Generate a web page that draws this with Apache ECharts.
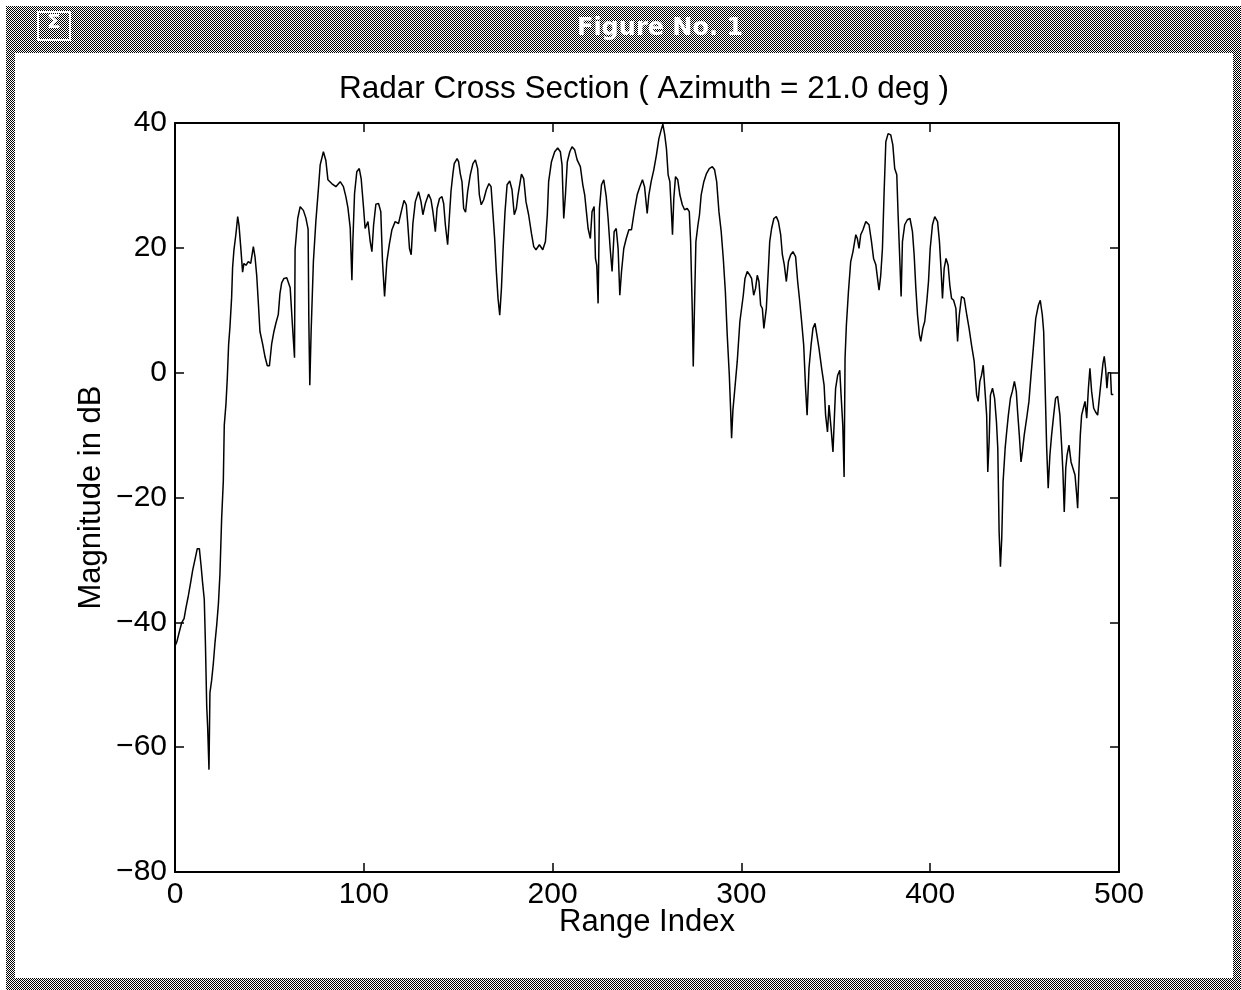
<!DOCTYPE html>
<html>
<head>
<meta charset="utf-8">
<script src="https://cdn.jsdelivr.net/npm/echarts@6/dist/echarts.min.js"></script>
<style>
html, body { margin: 0; padding: 0; background: #ffffff; }
#chart { width: 1241px; height: 990px; }
</style>
</head>
<body>
<div id="chart"></div>
<script>
// Range profile samples: range bin index and magnitude (dB)
const rangeIndex = [
  0, 0.9, 2.3, 3.5, 4.8, 5.8, 7.1, 8.3, 9.4, 10.6, 11.8, 12.9, 13.8, 14.6, 15.5, 16.1, 16.8, 17.3, 18, 18.5,
  19.4, 20.3, 21.2, 22.1, 23, 23.8, 24.7, 25.6, 26.1, 27, 27.7, 28.4, 29.1, 30, 30.5, 31.2, 32.3, 33.2, 33.9, 34.8,
  35.8, 36.5, 37.6, 38.8, 40.1, 41.5, 42.4, 43.3, 44.1, 45, 46.4, 47.7, 48.9, 50, 51.2, 52.4, 53.5, 54.7, 55.6, 56.5,
  57.7, 59.2, 61, 62.2, 63.3, 63.6, 65, 66.3, 68, 69.3, 70.5, 70.9, 71.4, 72.1, 73.3, 74.6, 76, 76.9, 78.6, 79.9,
  81, 83, 85.2, 87.5, 89.2, 90.5, 91.6, 92.8, 93.7, 94.2, 95.1, 96.3, 97.6, 98.6, 99.9, 100.7, 102.2, 103.4, 104.3, 105.2,
  106.4, 107.8, 109, 109.9, 111, 112.2, 113.5, 114.9, 116.6, 118.4, 120, 121.3, 122.5, 123.2, 124.2, 125.1, 126, 127.3, 129, 130.3,
  131.3, 132.6, 134.3, 135.6, 136.6, 137.9, 138.8, 140.1, 141.4, 142.3, 143.2, 144.4, 145.4, 146.2, 147.2, 147.9, 149.4, 150.2, 151.1, 152,
  152.9, 153.9, 155, 156.4, 157.8, 159.1, 160.3, 161.2, 162.2, 163.5, 164.9, 166.3, 167.4, 168.4, 169.3, 170.2, 171.1, 172, 172.9, 173.8,
  174.8, 175.9, 177.3, 178.5, 179.7, 180.8, 181.7, 183.5, 184.7, 185.9, 187.3, 188.8, 190, 191.2, 193, 194.8, 196.2, 197.2, 197.9, 199.4,
  201.1, 202.7, 204.1, 205, 205.9, 206.8, 207.8, 209.1, 210.3, 211.7, 213, 214.7, 216, 217, 217.9, 218.8, 220, 220.9, 222, 222.7,
  223.4, 224.1, 224.8, 225.9, 227.1, 228.4, 229.4, 230.5, 231.5, 232.6, 233.7, 234.7, 235.6, 236.5, 237.7, 239, 240.4, 241.8, 243.4, 244.8,
  246.2, 247.6, 248.7, 250.1, 251, 252.2, 253.6, 255, 256.3, 257.5, 258.4, 259.4, 260.3, 261.2, 262.1, 263, 263.5, 264.2, 265.1, 266.3,
  267.4, 268.7, 269.9, 271.3, 272.4, 273.1, 274, 274.5, 275.1, 275.9, 277, 277.8, 278.7, 280.1, 281.5, 283, 284.6, 285.8, 286.9, 288.1,
  289.3, 290.4, 291.5, 292.5, 293.6, 294.3, 294.8, 295.5, 296.4, 297.8, 299.2, 301, 301.9, 303.1, 304.5, 305.4, 306.5, 307.5, 308.4, 309.3,
  310.2, 311.1, 311.9, 313.2, 314.3, 315, 316, 317.2, 318.5, 319.6, 320.8, 321.7, 322.7, 323.8, 324.9, 326.1, 327.3, 328.7, 329.8, 330.9,
  331.9, 333, 334, 334.8, 335.8, 336.9, 337.9, 339, 340, 341.1, 342.5, 343.8, 344.6, 345.6, 346.4, 347.5, 348.5, 349.3, 349.9, 351,
  352.1, 352.8, 353.7, 354.4, 354.9, 355.6, 356.7, 357.9, 359.1, 360.6, 361.4, 362.3, 363.2, 364.4, 365.9, 367.6, 368.9, 370, 371.2, 372.1,
  372.9, 373.8, 374.7, 375.6, 376.5, 377.7, 379.1, 380.2, 381.2, 382.3, 383, 384, 384.6, 385.3, 386.5, 387.9, 389.3, 390.6, 391.5, 392.4,
  393.3, 394.3, 395, 396.1, 397.1, 398.2, 399.1, 400, 401.2, 402.4, 403.9, 404.9, 405.8, 406.5, 407.4, 408.4, 409.5, 410.4, 411.3, 412.4,
  413.6, 414.5, 415.4, 416.6, 418, 419.4, 420.6, 421.9, 423.3, 424.6, 425.4, 426.3, 427.2, 428.1, 429, 429.9, 430.5, 431.2, 431.9, 433,
  434.1, 435.1, 435.8, 436.5, 437.2, 437.9, 438.6, 439.7, 440.5, 441.4, 442.5, 443.5, 444.6, 445.6, 446.3, 447.2, 448.1, 448.8, 449.8, 451.1,
  452.3, 453.4, 454.6, 455.9, 457.3, 458.3, 459.4, 460.1, 460.8, 461.7, 462.5, 463.4, 464.3, 465.4, 466.4, 467.5, 468.7, 469.6, 470.3, 471,
  471.8, 472.5, 473.5, 474.6, 475.6, 476.7, 477.6, 478.1, 478.8, 479.5, 480.2, 481.1, 482, 482.9, 483.8, 484.6, 485.5, 486.6, 487.6, 488.7,
  489.4, 490.5, 491.5, 492.2, 492.9, 493.6, 494.3, 495.5, 496, 497
];
const magnitudeDb = [
  -43.8, -43.2, -41.5, -40.1, -39.4, -37.7, -35.7, -33.6, -31.6, -29.9, -28.2, -28.2, -30.9, -33.6, -36.3, -43.2, -53.4, -56.8, -63.6, -51.3,
  -49.3, -46.6, -43.2, -40.4, -37, -32.3, -23.4, -17.3, -8.4, -5, -0.9, 4.5, 7.3, 12.1, 16.8, 19.6, 22.3, 25, 23.6, 20.2,
  16.1, 17.5, 17.2, 17.8, 17.5, 20.2, 18.5, 15.5, 11.4, 6.6, 4.6, 2.5, 1.1, 1.1, 4.6, 6.6, 8, 9.3, 12.7, 14.4,
  15.1, 15.2, 13.6, 7.6, 2.4, 19.7, 24.7, 26.6, 26, 24.8, 23, 8, -2, 6.6, 17.8, 24.2, 29.6, 33.3, 35.4, 34,
  30.9, 30.3, 29.8, 30.6, 29.8, 28.2, 26.4, 23.2, 14.8, 21, 28.7, 32.2, 32.7, 31.1, 26.3, 23.1, 24.2, 21, 19.4, 23.7,
  27, 27.1, 25.8, 17.8, 12.2, 17.8, 20.5, 22.9, 24.2, 23.9, 26, 27.6, 26.9, 24.2, 19.9, 18.9, 23.9, 27.4, 29, 27.4,
  25.3, 27.1, 28.6, 27.7, 25.8, 22.6, 26.3, 27.9, 28.2, 27.1, 23.7, 20.5, 25.3, 29.1, 31.9, 33.5, 34.3, 33.8, 31.9, 30.6,
  26.3, 25.7, 29, 31.7, 33.5, 34.1, 32.7, 28.5, 26.9, 27.7, 29.3, 30.3, 29.8, 25.5, 21.5, 16.2, 11.9, 9.2, 13.5, 19.9,
  25.8, 30.1, 30.7, 29.3, 25.3, 26.3, 28.5, 31.8, 31.1, 27.4, 25.3, 22.3, 20.2, 19.7, 20.5, 19.7, 21, 25.3, 30.6, 33.8,
  35.4, 36, 35.4, 33.3, 24.7, 28.5, 33.8, 35.4, 36.2, 35.7, 34.1, 33, 30.1, 28.5, 25.8, 23.1, 21.5, 25.8, 26.6, 18.3,
  17.2, 11.1, 26.3, 30.1, 30.9, 28.2, 24.7, 19.9, 16.2, 22.6, 23.1, 19.9, 12.4, 16.2, 19.9, 21.5, 22.9, 22.9, 26.1, 28.5,
  29.8, 30.9, 29.8, 25.5, 28.5, 30.6, 32.5, 34.9, 37.5, 38.9, 39.8, 38.1, 35.9, 31.7, 30.6, 25.3, 22.1, 27.9, 31.4, 30.9,
  28.5, 26.9, 26.1, 26.3, 25.8, 21, 9.8, 1, 9.8, 21, 23.7, 25.3, 28.5, 30.6, 31.9, 32.7, 33, 32.5, 30.6, 25.8,
  22.6, 18.3, 13, 6, -0.4, -6, -10.5, -6, -3, 1.8, 8.2, 12.4, 15.1, 16.2, 15.6, 15.1, 12.4, 13.5, 15.6, 14.6,
  10.8, 10.3, 7.1, 10.3, 16.7, 21, 23.1, 24.7, 25, 24.2, 22.1, 18.9, 17.3, 14.6, 17.8, 18.9, 19.4, 18.6, 14.6, 11.4,
  8.2, 4.4, -2.5, -6.8, 0.7, 4.4, 7.1, 7.9, 6, 3.9, 0.7, -2, -6.8, -9.5, -5.2, -8.9, -12.7, -6.8, -2.5, -0.4,
  0.4, -3.6, -8.4, -16.7, 2.3, 7.6, 13, 17.8, 19.4, 22.1, 21.5, 19.9, 22.1, 22.9, 24.2, 23.7, 21, 18.3, 17.3, 15.1,
  13.2, 15.6, 19.9, 29, 37, 38.3, 38.1, 36.5, 32.7, 31.7, 25.3, 17.2, 12.2, 21, 23.7, 24.5, 24.7, 22.6, 18.9, 13.5,
  9.2, 6, 5, 7.1, 8.2, 11.4, 14.6, 19.9, 23.7, 25, 24.2, 21, 16.2, 11.9, 16.7, 18.3, 17.2, 14, 11.9, 11.6,
  10.3, 5, 9.2, 12.2, 11.9, 9.2, 7.1, 4.4, 1.8, -3.6, -4.6, -1.4, -0.4, 1.2, 1.5, -6.8, -15.9, -11.1, -3.6, -2.5,
  -4.1, -7.9, -12.1, -25.5, -31.1, -26.5, -17.5, -12.1, -9.5, -6.8, -4.1, -3, -1.4, -3, -6.3, -10, -14.3, -12.7, -10, -7.3,
  -4.6, -0.4, 3.9, 8.7, 10.8, 11.6, 9.2, 6.6, -1.4, -12.1, -18.5, -13.2, -10, -6.8, -4.1, -3.8, -6.8, -11.6, -15.9, -22.3,
  -15.3, -13.2, -11.6, -14.3, -15.3, -16.4, -19.6, -21.7, -15.3, -10, -6.8, -5.7, -4.6, -7.3, -2.5, 0.7, -3, -5.7, -6.3, -6.8,
  -4.6, -1.4, 1.5, 2.6, 0.7, -2.5, 0, 0, -3.5, -3.5
];

// Axis ranges and tick spacing
const xRange = [0, 500];
const xStep = 100;
const yRange = [-80, 40];
const yStep = 20;

const chartTitle = 'Radar Cross Section ( Azimuth = 21.0 deg )';
const xAxisName = 'Range Index';
const yAxisName = 'Magnitude in dB';
const windowTitle = 'Figure No. 1';

// 1-pixel checkerboard used for the window frame and title bar
function makeDither() {
  const c = document.createElement('canvas');
  c.width = 2; c.height = 2;
  const g = c.getContext('2d');
  g.fillStyle = '#ffffff'; g.fillRect(0, 0, 2, 2);
  g.fillStyle = '#000000'; g.fillRect(0, 0, 1, 1); g.fillRect(1, 1, 1, 1);
  return c;
}
const dither = { image: makeDither(), repeat: 'repeat' };

const minusLabel = v => String(v).replace('-', '\u2212');
const labelFont = { fontFamily: '"Liberation Sans", Arial, Helvetica, sans-serif', color: '#000' };

// box axes: ticks point inward on all four sides
const boxLine = { onZero: false, lineStyle: { color: '#000', width: 2 } };
const boxTick = { inside: true, length: 9, lineStyle: { color: '#000', width: 1.5 } };

const chart = echarts.init(document.getElementById('chart'), null, { renderer: 'canvas' });

chart.setOption({
  animation: false,
  backgroundColor: '#ffffff',
  title: {
    text: chartTitle,
    left: 639, top: 68, textAlign: 'center',
    textStyle: { ...labelFont, fontSize: 31.5, fontWeight: 'normal' }
  },
  grid: { left: 175, right: 122, top: 123, bottom: 118, containLabel: false },
  xAxis: [
    {
      type: 'value', position: 'bottom', min: xRange[0], max: xRange[1], interval: xStep,
      name: xAxisName, nameLocation: 'middle', nameGap: 35, nameMoveOverlap: false,
      nameTextStyle: { ...labelFont, fontSize: 31 },
      axisLine: boxLine, axisTick: boxTick,
      axisLabel: { ...labelFont, fontSize: 30, margin: 8, formatter: minusLabel },
      splitLine: { show: false }
    },
    {
      type: 'value', position: 'top', min: xRange[0], max: xRange[1], interval: xStep,
      axisLine: boxLine, axisTick: boxTick,
      axisLabel: { show: false }, splitLine: { show: false }
    }
  ],
  yAxis: [
    {
      type: 'value', position: 'left', min: yRange[0], max: yRange[1], interval: yStep,
      name: yAxisName, nameLocation: 'middle', nameGap: 68, nameRotate: 90, nameMoveOverlap: false,
      nameTextStyle: { ...labelFont, fontSize: 31 },
      axisLine: boxLine, axisTick: boxTick,
      axisLabel: { ...labelFont, fontSize: 30, margin: 8, formatter: minusLabel },
      splitLine: { show: false }
    },
    {
      type: 'value', position: 'right', min: yRange[0], max: yRange[1], interval: yStep,
      axisLine: boxLine, axisTick: boxTick,
      axisLabel: { show: false }, splitLine: { show: false }
    }
  ],
  series: [{
    type: 'line',
    xAxisIndex: 0, yAxisIndex: 0,
    data: rangeIndex.map((r, i) => [r, magnitudeDb[i]]),
    showSymbol: false,
    symbol: 'none',
    lineStyle: { color: '#000', width: 1.5 },
    clip: true
  }],
  graphic: [
    // window frame
    { type: 'rect', shape: { x: 6, y: 6, width: 1235, height: 47 }, style: { fill: dither }, silent: true },
    { type: 'rect', shape: { x: 6, y: 6, width: 9, height: 984 }, style: { fill: dither }, silent: true },
    { type: 'rect', shape: { x: 1233, y: 6, width: 8, height: 984 }, style: { fill: dither }, silent: true },
    { type: 'rect', shape: { x: 6, y: 978, width: 1235, height: 12 }, style: { fill: dither }, silent: true },
    // system menu box in the title bar
    { type: 'rect', shape: { x: 38, y: 12, width: 32, height: 28 }, style: { fill: dither, stroke: '#ffffff', lineWidth: 2 }, silent: true },
    { type: 'text', left: 47, top: 13, style: { text: '\u03A3', fill: '#ffffff', font: 'bold 20px "DejaVu Sans", sans-serif' }, silent: true },
    // window title
    { type: 'text', left: 577, top: 17, style: { text: windowTitle, fill: '#ffffff', font: 'bold 24px "DejaVu Sans", sans-serif' }, silent: true }
  ]
});
</script>
</body>
</html>
